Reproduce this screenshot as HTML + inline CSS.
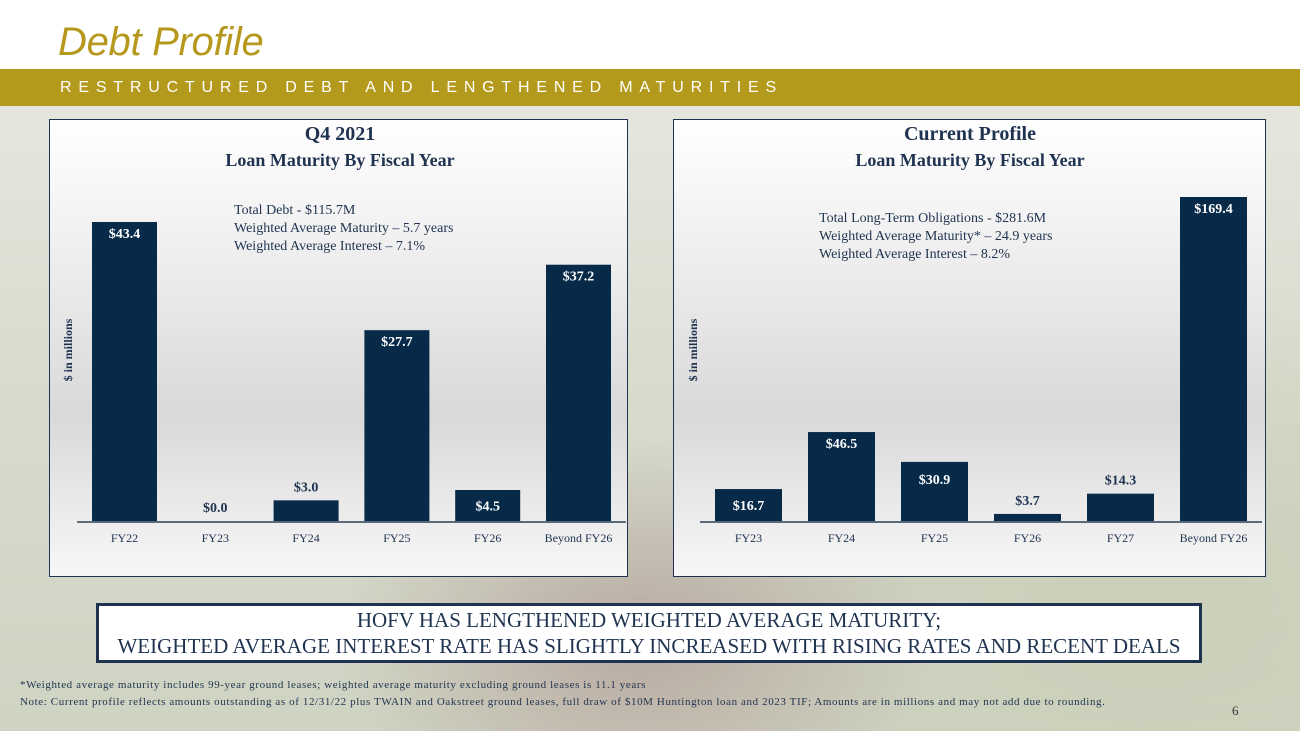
<!DOCTYPE html>
<html><head><meta charset="utf-8"><style>
body{margin:0;width:1300px;height:731px;overflow:hidden;font-family:"Liberation Serif",serif;}
#bg{position:absolute;left:0;top:0;width:1300px;height:731px;background:
radial-gradient(ellipse 300px 200px at 640px 640px,#b8a9a0 0%,rgba(184,169,160,0) 100%),
radial-gradient(ellipse 500px 300px at 1150px 600px,#c9cfb8 0%,rgba(201,207,184,0) 100%),
linear-gradient(180deg,#e9ebe4 0%,#d8dccd 50%,#cfd3c2 100%);}
.panel{position:absolute;top:119px;height:456px;border:1px solid #1f3350;background:linear-gradient(180deg,#ffffff 0%,#f4f4f4 20%,#d9d9d9 65%,#f7f7f7 100%);}
</style></head><body>
<div id="bg"></div>
<div style="position:absolute;left:0;top:0;width:1300px;height:69px;background:#fff;"></div>
<div style="position:absolute;left:58px;top:20px;font:italic 40px 'Liberation Sans',sans-serif;color:#b5981c;letter-spacing:-0.3px;">Debt Profile</div>
<div style="position:absolute;left:0;top:69px;width:1300px;height:37px;background:#b49a1c;"></div>
<div style="position:absolute;left:60px;top:79px;font:16px 'Liberation Sans',sans-serif;color:#fff;letter-spacing:6.8px;">RESTRUCTURED DEBT AND LENGTHENED MATURITIES</div>
<div class="panel" style="left:49px;width:577px;"></div>
<div class="panel" style="left:673px;width:591px;"></div>
<svg id="chart" width="1300" height="731" style="position:absolute;left:0;top:0"></svg>
<div style="position:absolute;left:96px;top:603px;width:1106px;height:60px;border:3px solid #1f3350;background:#fff;box-sizing:border-box;text-align:center;font:21px 'Liberation Serif',serif;color:#1f3350;line-height:26px;padding-top:1px;white-space:nowrap;">HOFV HAS LENGTHENED WEIGHTED AVERAGE MATURITY;<br>WEIGHTED AVERAGE INTEREST RATE HAS SLIGHTLY INCREASED WITH RISING RATES AND RECENT DEALS</div>
<div style="position:absolute;left:20px;top:677px;font:11px 'Liberation Serif',serif;color:#1f3350;line-height:17px;letter-spacing:0.6px;white-space:nowrap;">*Weighted average maturity includes 99-year ground leases; weighted average maturity excluding ground leases is 11.1 years<br>Note: Current profile reflects amounts outstanding as of 12/31/22 plus TWAIN and Oakstreet ground leases, full draw of $10M Huntington loan and 2023 TIF; Amounts are in millions and may not add due to rounding.</div>
<div style="position:absolute;left:1232px;top:703px;font:13px 'Liberation Serif',serif;color:#333;">6</div>
<script>
const leftCats=["FY22","FY23","FY24","FY25","FY26","Beyond FY26"];
const leftVals=[43.4,0.0,3.0,27.7,4.5,37.2];
const rightCats=["FY23","FY24","FY25","FY26","FY27","Beyond FY26"];
const rightVals=[16.7,46.5,30.9,3.7,14.3,169.4];
const NS="http://www.w3.org/2000/svg";
const svg=document.getElementById('chart');
function mk(tag,attrs,txt){const e=document.createElementNS(NS,tag);for(const k in attrs)e.setAttribute(k,attrs[k]);if(txt!==undefined)e.textContent=txt;svg.appendChild(e);return e;}
function drawChart(name,cats,vals,x0,step,bw,base,topY,title,sub,notes,nx,ny,ylabX,tc){
  const max=Math.max(...vals);
  const y=v=>base-(v/max)*(base-topY);
  const cx=i=>x0+i*step;
  const t1=mk('text',{x:tc,y:140,'text-anchor':'middle','font-size':20,'font-weight':'bold',fill:'#1f3350','font-family':'Liberation Serif'},title);
  
  const t2=mk('text',{x:tc,y:166,'text-anchor':'middle','font-size':18,'font-weight':'bold',fill:'#1f3350','font-family':'Liberation Serif'},sub);
  
  notes.forEach((n,i)=>{const e=mk('text',{x:nx,y:ny+i*18,'font-size':14,fill:'#1f3350','font-family':'Liberation Serif'},n);
    });
  const yl=mk('text',{x:ylabX,y:350,'text-anchor':'middle','font-size':12,'font-weight':'bold',fill:'#1f3350','font-family':'Liberation Serif',transform:'rotate(-90 '+ylabX+' 350)'},'$ in millions');
  
  vals.forEach((v,i)=>{
    const top=y(v),h=base-top;
    const r=mk('rect',{x:cx(i)-bw/2,y:top,width:bw,height:h,fill:'#072a48'});
    
    
    const inside=h>=30;
    const ly=inside?top+Math.min(22,h/2+5)-(h>60?6:0):top-9;
    const l=mk('text',{x:cx(i),y:ly,'text-anchor':'middle','font-size':14,'font-weight':'bold',fill:inside?'#fff':'#1f3350','font-family':'Liberation Serif'},'$'+v.toFixed(1));
    
    const c=mk('text',{x:cx(i),y:base+21,'text-anchor':'middle','font-size':12,fill:'#1f3350','font-family':'Liberation Serif'},cats[i]);
    
  });
  const ax=mk('line',{x1:x0-step/2-2,x2:x0+5.5*step+2,y1:base+1,y2:base+1,stroke:'#5a6a7a','stroke-width':2});
  
}
drawChart('left-chart',leftCats,leftVals,124.5,90.8,65,521,222,'Q4 2021','Loan Maturity By Fiscal Year',
 ['Total Debt - $115.7M','Weighted Average Maturity – 5.7 years','Weighted Average Interest – 7.1%'],234,214,72,340);
drawChart('right-chart',rightCats,rightVals,748.5,93,67,521,197,'Current Profile','Loan Maturity By Fiscal Year',
 ['Total Long-Term Obligations - $281.6M','Weighted Average Maturity* – 24.9 years','Weighted Average Interest – 8.2%'],819,222,697,970);
</script>
</body></html>
